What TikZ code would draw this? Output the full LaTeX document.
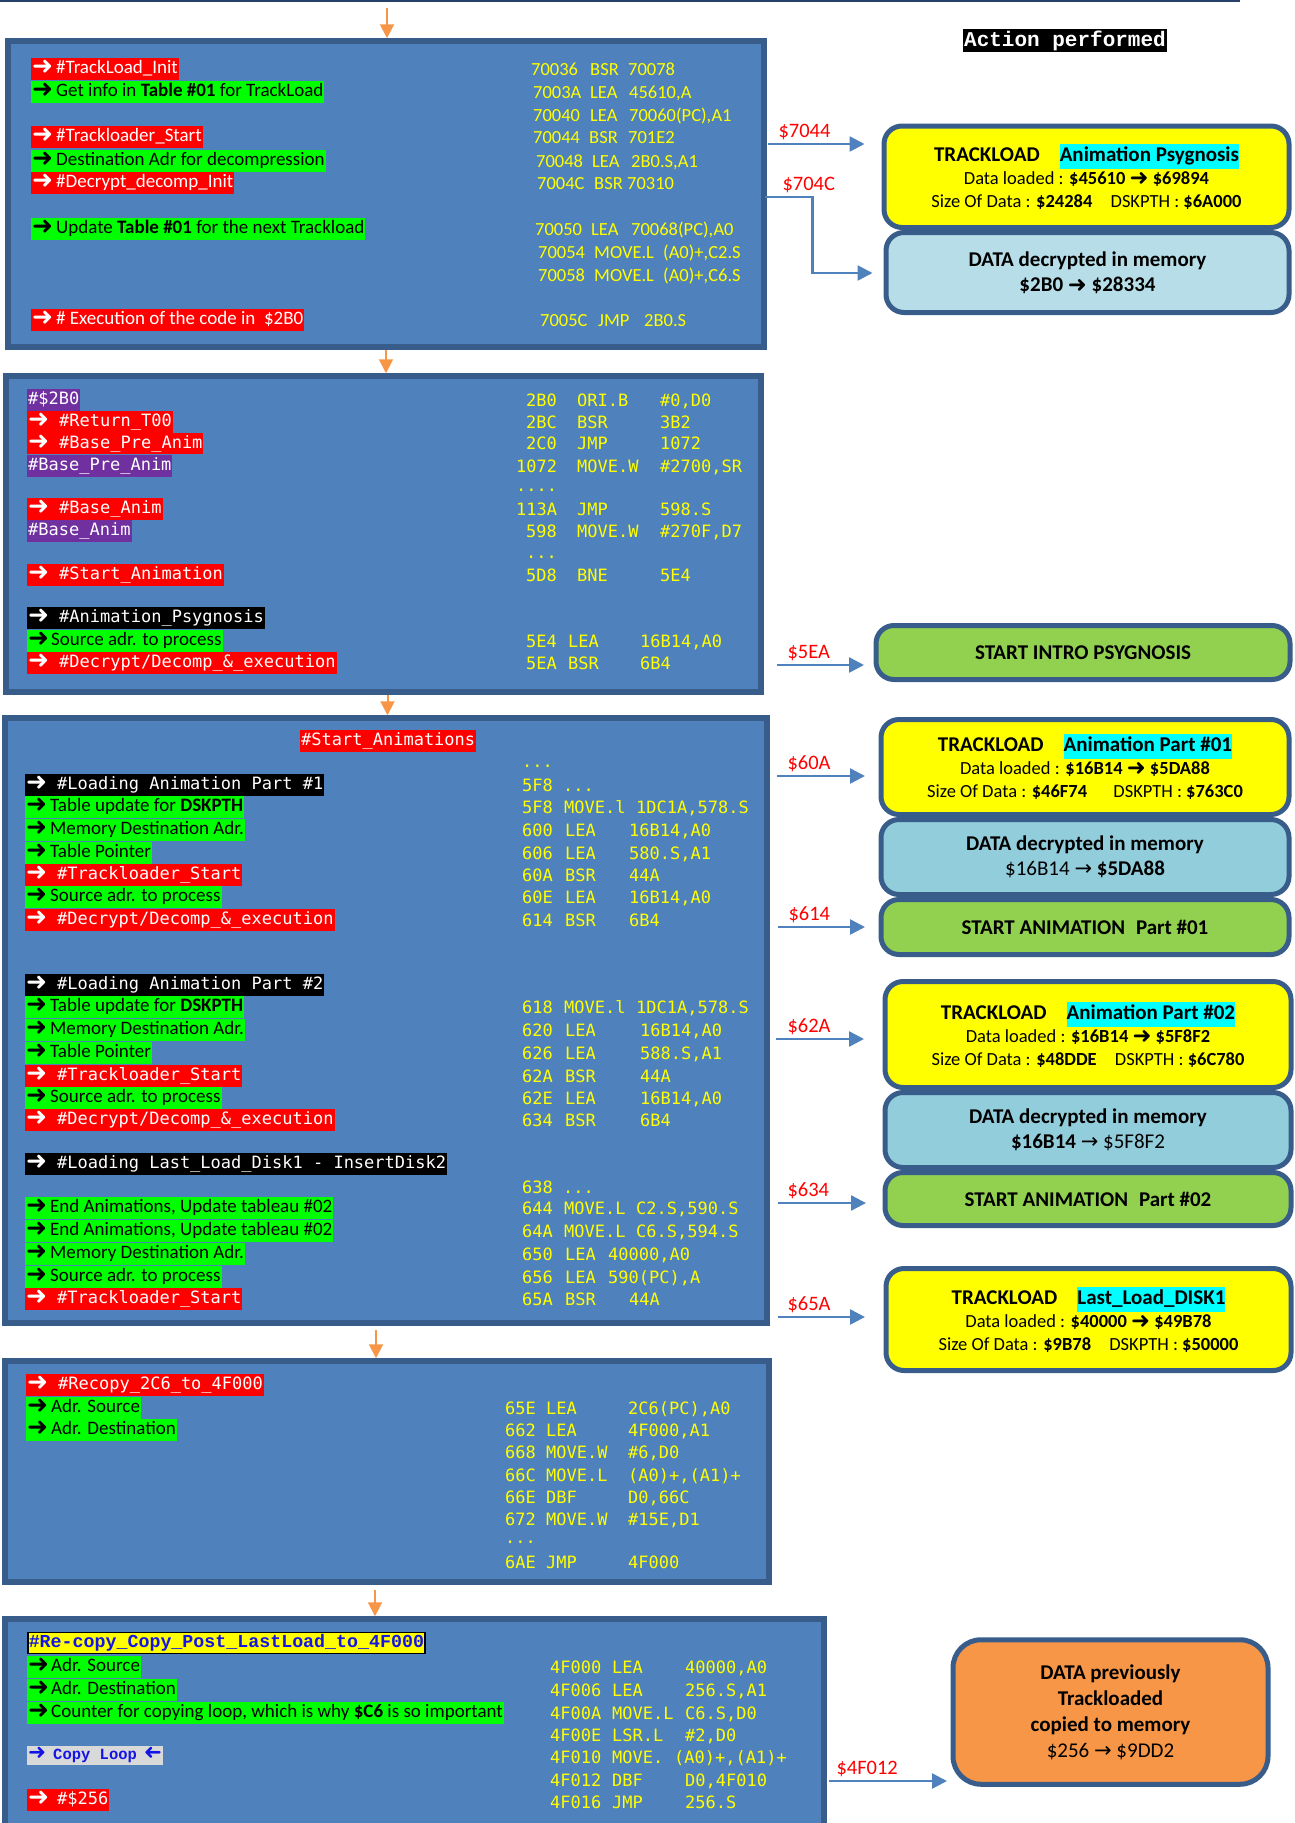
\documentclass[tikz,border=0pt]{standalone}
\usepackage{fontspec}
\setmainfont{Carlito}
\newfontfamily\monofont{DejaVu Sans Mono}
\newfontfamily\courfont{Liberation Mono}
\newfontfamily\symfont{DejaVu Sans}
\usepackage{graphicx}
\usetikzlibrary{arrows.meta}
\definecolor{boxFill}{RGB}{79, 129, 189}
\definecolor{boxLine}{RGB}{56, 93, 138}
\definecolor{topLine}{RGB}{38, 64, 105}
\definecolor{codeYellow}{RGB}{255, 255, 0}
\definecolor{codeBlue}{RGB}{20, 20, 230}
\definecolor{hlRed}{RGB}{255, 0, 0}
\definecolor{hlGreen}{RGB}{0, 255, 0}
\definecolor{hlPurple}{RGB}{112, 48, 160}
\definecolor{hlCyan}{RGB}{0, 255, 255}
\definecolor{hlGray}{RGB}{217, 217, 217}
\definecolor{hlYellow}{RGB}{255, 255, 0}
\definecolor{addrRed}{RGB}{255, 0, 0}
\definecolor{linkBlue}{RGB}{79, 129, 189}
\definecolor{flowOrange}{RGB}{247, 150, 70}
\definecolor{loadYellow}{RGB}{255, 255, 0}
\definecolor{memoLight}{RGB}{183, 222, 232}
\definecolor{memoBlue}{RGB}{146, 205, 220}
\definecolor{runGreen}{RGB}{146, 208, 80}
\definecolor{copyOrange}{RGB}{247, 150, 70}
\newcommand\arw{\makebox[19pt][l]{\smash{\raisebox{-1pt}{\resizebox{21pt}{!}{\symfont ➜}}}}}
\newcommand\barw{\smash{\raisebox{-1pt}{\resizebox{19pt}{!}{\symfont ➜}}}}
\newcommand\tarw{{\symfont →}}
\newcommand\cyhl[1]{{\setlength\fboxsep{0pt}\colorbox{hlCyan}{\strut #1}}}
\newcommand\trk[1]{{\fontsize{21}{25}\selectfont\bfseries TRACKLOAD\hspace{20pt}\cyhl{#1}}}
\newcommand\cl[5]{\makebox[#1pt][l]{#3}\makebox[#2pt][l]{#4}#5}

\begin{document}
\begin{tikzpicture}[
  x=1pt, y=-1pt,
  blk/.style={rectangle, draw=boxLine, fill=boxFill, line width=5.5pt},
  lbl/.style={anchor=west, inner xsep=1pt, inner ysep=0pt,
    text height=15.25pt, text depth=6pt, font=\fontsize{19}{22}\selectfont},
  lblred/.style={lbl, fill=hlRed, text=white},
  lblgreen/.style={lbl, fill=hlGreen, text=black},
  lblblack/.style={lbl, fill=black, text=white},
  lblpurple/.style={lbl, fill=hlPurple, text=white},
  mono/.style={font=\monofont\fontsize{17}{22}\selectfont},
  asm/.style={anchor=west, inner sep=0pt, text height=14pt, text depth=2pt,
    text=codeYellow, font=\monofont\fontsize{17}{20}\selectfont},
  asmc/.style={asm, font=\fontsize{18.5}{22}\selectfont},
  recopy/.style={anchor=west, fill=hlYellow, draw=black, line width=1.5pt,
    inner xsep=1pt, inner ysep=0pt, text height=15pt, text depth=6pt,
    text=codeBlue, font=\courfont\bfseries\fontsize{18.3}{22}\selectfont},
  loopmark/.style={anchor=west, fill=hlGray, inner xsep=1pt, inner ysep=0pt,
    text height=14pt, text depth=5pt, text=codeBlue,
    font=\courfont\bfseries\fontsize{15.5}{20}\selectfont},
  header/.style={fill=black, text=white, inner xsep=1pt, inner ysep=0pt,
    text height=17pt, text depth=6pt, font=\courfont\bfseries\fontsize{21}{25}\selectfont},
  act/.style={rectangle, rounded corners=18pt, draw=boxLine, line width=5pt,
    align=center, inner sep=0pt, font=\fontsize{18.5}{23}\selectfont},
  loadbox/.style={act, fill=loadYellow},
  memobox/.style={act, fill=memoBlue, font=\fontsize{21}{25.5}\selectfont},
  runbox/.style={act, fill=runGreen, font=\bfseries\fontsize{21}{25}\selectfont},
  copybox/.style={act, fill=copyOrange, rounded corners=28pt, font=\fontsize{21}{26}\selectfont},
  addr/.style={anchor=base west, yshift=6.5pt, inner sep=0pt, text=addrRed,
    font=\fontsize{20.5}{24}\selectfont},
  link/.style={draw=linkBlue, line width=2.5pt, -{Triangle[length=15pt, width=15pt]}},
  flow/.style={draw=flowOrange, line width=2pt, -{Triangle[length=14pt, width=14pt]}}
]
  \useasboundingbox (0,0) rectangle (1294,1823);
  \clip (0,0) rectangle (1294,1823);

  \draw[topLine, line width=3pt] (0,0) -- (1240,0);

  % --- code blocks ---
  \node[blk, minimum width=756pt, minimum height=306pt] (blk1) at (386,194) {};
  \node[blk, minimum width=755pt, minimum height=316pt] (blk2) at (383.5,534) {};
  \node[blk, minimum width=762pt, minimum height=605pt] (blk3) at (386,1020.5) {};
  \node[blk, minimum width=764pt, minimum height=221pt] (blk4) at (387,1471.5) {};
  \node[blk, minimum width=819pt, minimum height=244pt] (blk5) at (414.5,1741) {};

  % block 1
  \node[lblred]   (t11) at (31, 69) {\arw\hspace{5pt}\#TrackLoad\_Init};
  \node[lblgreen] (t12) at (31, 92) {\arw\hspace{5pt}Get info in \textbf{Table \#01} for TrackLoad};
  \node[lblred]   (t13) at (31,137) {\arw\hspace{5pt}\#Trackloader\_Start};
  \node[lblgreen] (t14) at (31,161) {\arw\hspace{5pt}Destination Adr for decompression\hspace{6pt}};
  \node[lblred]   (t15) at (31,183) {\arw\hspace{5pt}\#Decrypt\_decomp\_Init};
  \node[lblgreen] (t16) at (31,229) {\arw\hspace{5pt}Update \textbf{Table \#01} for the next Trackload};
  \node[lblred]   (t17) at (31,320) {\arw\hspace{5pt}\# Execution of the code in \ \$2B0};

  \node[asmc] (c11)  at (531, 69) {\cl{59}{38}{70036}{BSR}{70078}};
  \node[asmc] (c12)  at (533, 92) {\cl{57}{39}{7003A}{LEA}{45610,A}};
  \node[asmc] (c13)  at (533,115) {\cl{57}{39}{70040}{LEA}{70060(PC),A1}};
  \node[asmc] (c14)  at (533,137) {\cl{56}{39}{70044}{BSR}{701E2}};
  \node[asmc] (c15)  at (536,161) {\cl{56}{39}{70048}{LEA}{2B0.S,A1}};
  \node[asmc] (c16)  at (537,183) {\cl{57}{33}{7004C}{BSR}{70310}};
  \node[asmc] (c17)  at (535,229) {\cl{56}{40}{70050}{LEA}{70068(PC),A0}};
  \node[asmc] (c18)  at (538,252) {\cl{56}{69}{70054}{MOVE.L}{(A0)+,C2.S}};
  \node[asmc] (c19)  at (538,275) {\cl{56}{69}{70058}{MOVE.L}{(A0)+,C6.S}};
  \node[asmc] (c110) at (540,320) {\cl{58}{46}{7005C}{JMP}{2B0.S}};

  % block 2
  \node[lblpurple, mono] (t21)  at (27,400) {\#\$2B0};
  \node[lblred, mono]    (t22)  at (27,422) {\arw\hspace{12pt}\#Return\_T00};
  \node[lblred, mono]    (t23)  at (27,443.5) {\arw\hspace{12pt}\#Base\_Pre\_Anim};
  \node[lblpurple, mono] (t24)  at (27,466) {\#Base\_Pre\_Anim};
  \node[lblred, mono]    (t25)  at (27,509) {\arw\hspace{12pt}\#Base\_Anim};
  \node[lblpurple, mono] (t26)  at (27,531) {\#Base\_Anim};
  \node[lblred, mono]    (t27)  at (27,575) {\arw\hspace{12pt}\#Start\_Animation};
  \node[lblblack, mono]  (t28)  at (27,618) {\arw\hspace{12pt}\#Animation\_Psygnosis};
  \node[lblgreen]        (t29)  at (27,641) {\arw\hspace{4pt}Source adr. to process};
  \node[lblred, mono]    (t210) at (27,663) {\arw\hspace{12pt}\#Decrypt/Decomp\_\&\_execution};

  \node[asm] (c21)  at (526,400) {\cl{51}{83}{2B0}{ORI.B}{\#0,D0}};
  \node[asm] (c22)  at (526,422) {\cl{51}{83}{2BC}{BSR}{3B2}};
  \node[asm] (c23)  at (526,443) {\cl{51}{83}{2C0}{JMP}{1072}};
  \node[asm] (c24)  at (516,466) {\cl{61}{83}{1072}{MOVE.W}{\#2700,SR}};
  \node[asm] (c25)  at (516,485) {....};
  \node[asm] (c26)  at (516,509) {\cl{61}{83}{113A}{JMP}{598.S}};
  \node[asm] (c27)  at (526,531) {\cl{51}{83}{598}{MOVE.W}{\#270F,D7}};
  \node[asm] (c28)  at (526,552) {...};
  \node[asm] (c29)  at (526,575) {\cl{51}{83}{5D8}{BNE}{5E4}};
  \node[asm] (c210) at (526,641) {\cl{42}{72}{5E4}{LEA}{16B14,A0}};
  \node[asm] (c211) at (526,663) {\cl{42}{72}{5EA}{BSR}{6B4}};

  % block 3
  \node[lblred, mono]   (t31)  at (300, 741) {\#Start\_Animations};
  \node[lblblack, mono] (t32)  at (25, 785) {\arw\hspace{12pt}\#Loading Animation Part \#1};
  \node[lblgreen]       (t33)  at (25, 807) {\arw\hspace{5pt}Table update for \textbf{DSKPTH}};
  \node[lblgreen]       (t34)  at (25, 830) {\arw\hspace{5pt}Memory Destination Adr.};
  \node[lblgreen]       (t35)  at (25, 853) {\arw\hspace{5pt}Table Pointer};
  \node[lblred, mono]   (t36)  at (25, 875) {\arw\hspace{12pt}\#Trackloader\_Start};
  \node[lblgreen]       (t37)  at (25, 897) {\arw\hspace{5pt}Source adr. to process};
  \node[lblred, mono]   (t38)  at (25, 920) {\arw\hspace{12pt}\#Decrypt/Decomp\_\&\_execution};
  \node[lblblack, mono] (t39)  at (25, 985) {\arw\hspace{12pt}\#Loading Animation Part \#2};
  \node[lblgreen]       (t310) at (25,1007) {\arw\hspace{5pt}Table update for \textbf{DSKPTH}};
  \node[lblgreen]       (t311) at (25,1030) {\arw\hspace{5pt}Memory Destination Adr.};
  \node[lblgreen]       (t312) at (25,1053) {\arw\hspace{5pt}Table Pointer};
  \node[lblred, mono]   (t313) at (25,1076) {\arw\hspace{12pt}\#Trackloader\_Start};
  \node[lblgreen]       (t314) at (25,1098) {\arw\hspace{5pt}Source adr. to process};
  \node[lblred, mono]   (t315) at (25,1120) {\arw\hspace{12pt}\#Decrypt/Decomp\_\&\_execution};
  \node[lblblack, mono] (t316) at (25,1164) {\arw\hspace{12pt}\#Loading Last\_Load\_Disk1 - InsertDisk2};
  \node[lblgreen]       (t317) at (25,1208) {\arw\hspace{5pt}End Animations, Update tableau \#02};
  \node[lblgreen]       (t318) at (25,1231) {\arw\hspace{5pt}End Animations, Update tableau \#02};
  \node[lblgreen]       (t319) at (25,1254) {\arw\hspace{5pt}Memory Destination Adr.};
  \node[lblgreen]       (t320) at (25,1277) {\arw\hspace{5pt}Source adr. to process};
  \node[lblred, mono]   (t321) at (25,1299) {\arw\hspace{12pt}\#Trackloader\_Start};

  \node[asm] (c31)  at (522, 761) {...};
  \node[asm] (c32)  at (522, 785) {5F8 ...};
  \node[asm] (c33)  at (522, 807) {\cl{42}{72}{5F8}{MOVE.l}{1DC1A,578.S}};
  \node[asm] (c34)  at (522, 830) {\cl{43}{64}{600}{LEA}{16B14,A0}};
  \node[asm] (c35)  at (522, 853) {\cl{43}{64}{606}{LEA}{580.S,A1}};
  \node[asm] (c36)  at (522, 875) {\cl{43}{64}{60A}{BSR}{44A}};
  \node[asm] (c37)  at (522, 897) {\cl{43}{64}{60E}{LEA}{16B14,A0}};
  \node[asm] (c38)  at (522, 920) {\cl{43}{64}{614}{BSR}{6B4}};
  \node[asm] (c39)  at (522,1007) {\cl{42}{72}{618}{MOVE.l}{1DC1A,578.S}};
  \node[asm] (c310) at (522,1030) {\cl{43}{75}{620}{LEA}{16B14,A0}};
  \node[asm] (c311) at (522,1053) {\cl{43}{75}{626}{LEA}{588.S,A1}};
  \node[asm] (c312) at (522,1076) {\cl{43}{75}{62A}{BSR}{44A}};
  \node[asm] (c313) at (522,1098) {\cl{43}{75}{62E}{LEA}{16B14,A0}};
  \node[asm] (c314) at (522,1120) {\cl{43}{75}{634}{BSR}{6B4}};
  \node[asm] (c315) at (522,1187) {638 ...};
  \node[asm] (c316) at (522,1208) {\cl{42}{72}{644}{MOVE.L}{C2.S,590.S}};
  \node[asm] (c317) at (522,1231) {\cl{42}{72}{64A}{MOVE.L}{C6.S,594.S}};
  \node[asm] (c318) at (522,1254) {\cl{43}{43}{650}{LEA}{40000,A0}};
  \node[asm] (c319) at (522,1277) {\cl{43}{43}{656}{LEA}{590(PC),A}};
  \node[asm] (c320) at (522,1299) {\cl{43}{64}{65A}{BSR}{44A}};

  % block 4
  \node[lblred, mono] (t41) at (26,1385) {\arw\hspace{12pt}\#Recopy\_2C6\_to\_4F000};
  \node[lblgreen]     (t42) at (26,1408) {\arw\hspace{5pt}Adr. Source};
  \node[lblgreen]     (t43) at (26,1430) {\arw\hspace{5pt}Adr. Destination};

  \node[asm] (c41) at (505,1408) {\cl{41}{82}{65E}{LEA}{2C6(PC),A0}};
  \node[asm] (c42) at (505,1430) {\cl{41}{82}{662}{LEA}{4F000,A1}};
  \node[asm] (c43) at (505,1452) {\cl{41}{82}{668}{MOVE.W}{\#6,D0}};
  \node[asm] (c44) at (505,1475) {\cl{41}{82}{66C}{MOVE.L}{(A0)+,(A1)+}};
  \node[asm] (c45) at (505,1497) {\cl{41}{82}{66E}{DBF}{D0,66C}};
  \node[asm] (c46) at (505,1519) {\cl{41}{82}{672}{MOVE.W}{\#15E,D1}};
  \node[asm] (c47) at (505,1537) {...};
  \node[asm] (c48) at (505,1562) {\cl{41}{82}{6AE}{JMP}{4F000}};

  % block 5
  \node[recopy]       (t51) at (27,1643) {\#Re-copy\_Copy\_Post\_LastLoad\_to\_4F000};
  \node[lblgreen]     (t52) at (27,1667) {\arw\hspace{4pt}Adr. Source};
  \node[lblgreen]     (t53) at (27,1690) {\arw\hspace{4pt}Adr. Destination};
  \node[lblgreen]     (t54) at (27,1713) {\arw\hspace{4pt}Counter for copying loop, which is why \textbf{\$C6} is so important};
  \node[loopmark]     (t55) at (27,1755) {\smash{\resizebox{18pt}{!}{\symfont ➜}}\hspace{7pt}Copy Loop\hspace{7pt}\reflectbox{\smash{\resizebox{18pt}{!}{\symfont ➜}}}};
  \node[lblred, mono] (t56) at (27,1800) {\arw\hspace{10pt}\#\$256};

  \node[asm] (c51) at (550,1667) {\cl{62}{73}{4F000}{LEA}{40000,A0}};
  \node[asm] (c52) at (550,1690) {\cl{62}{73}{4F006}{LEA}{256.S,A1}};
  \node[asm] (c53) at (550,1713) {\cl{62}{73}{4F00A}{MOVE.L}{C6.S,D0}};
  \node[asm] (c54) at (550,1735) {\cl{62}{73}{4F00E}{LSR.L}{\#2,D0}};
  \node[asm] (c55) at (550,1757) {\cl{62}{62}{4F010}{MOVE.}{(A0)+,(A1)+}};
  \node[asm] (c56) at (550,1780) {\cl{62}{73}{4F012}{DBF}{D0,4F010}};
  \node[asm] (c57) at (550,1802) {\cl{62}{73}{4F016}{JMP}{256.S}};

  % --- actions performed ---
  \node[header] (hdr) at (1065,40.5) {Action performed};

  \node[loadbox, minimum width=405pt, minimum height=101.5pt] (actA) at (1086.5,176.75)
    {\trk{Animation Psygnosis}\\
     Data loaded : \textbf{\$45610 \barw{} \$69894}\\
     Size Of Data : \textbf{\$24284}\hspace{14pt} DSKPTH : \textbf{\$6A000}};
  \node[memobox, fill=memoLight, minimum width=403pt, minimum height=80pt] (actB) at (1087.5,272.5)
    {\textbf{DATA decrypted in memory}\\ \textbf{\$2B0 \barw{} \$28334}};

  \node[runbox, minimum width=414pt, minimum height=54pt] (actC) at (1083,652.5) {START INTRO PSYGNOSIS};

  \node[loadbox, minimum width=408pt, minimum height=95pt] (actD) at (1085,767)
    {\trk{Animation Part \#01}\\
     Data loaded : \textbf{\$16B14 \barw{} \$5DA88}\\
     Size Of Data : \textbf{\$46F74}\hspace{22pt} DSKPTH : \textbf{\$763C0}};
  \node[memobox, minimum width=408pt, minimum height=75pt] (actE) at (1085,857)
    {\textbf{DATA decrypted in memory}\\ \$16B14 \tarw{} \textbf{\$5DA88}};
  \node[runbox, minimum width=408pt, minimum height=55pt] (actF) at (1085,927)
    {START ANIMATION\hspace{6pt} Part \#01};

  \node[loadbox, minimum width=406pt, minimum height=106pt] (actG) at (1088,1034.5)
    {\trk{Animation Part \#02}\\
     Data loaded : \textbf{\$16B14 \barw{} \$5F8F2}\\
     Size Of Data : \textbf{\$48DDE}\hspace{14pt} DSKPTH : \textbf{\$6C780}};
  \node[memobox, minimum width=406pt, minimum height=75pt] (actH) at (1088,1130)
    {\textbf{DATA decrypted in memory}\\ \textbf{\$16B14} \tarw{} \$5F8F2};
  \node[runbox, minimum width=406pt, minimum height=53pt] (actI) at (1088,1199)
    {START ANIMATION\hspace{6pt} Part \#02};

  \node[loadbox, minimum width=405pt, minimum height=102pt] (actJ) at (1088.5,1319.5)
    {\trk{Last\_Load\_DISK1}\\
     Data loaded : \textbf{\$40000 \barw{} \$49B78}\\
     Size Of Data : \textbf{\$9B78}\hspace{14pt} DSKPTH : \textbf{\$50000}};

  \node[copybox, minimum width=315pt, minimum height=144.5pt] (actK) at (1110.5,1712)
    {\textbf{DATA previously}\\ \textbf{Trackloaded}\\ \textbf{copied to memory}\\ \$256 \tarw{} \$9DD2};

  % --- flow between blocks ---
  \coordinate (entry) at (387,8);
  \draw[flow] (entry) -- (entry |- blk1.north);
  \draw[flow] (blk1.south) -- (blk1.south |- blk2.north);
  \draw[flow] ([xshift=4pt]blk2.south) -- ([xshift=4pt]blk2.south |- blk3.north);
  \draw[flow, shorten <=4pt] ([xshift=-10pt]blk3.south) -- ([xshift=-10pt]blk3.south |- blk4.north);
  \draw[flow, shorten <=5pt] ([xshift=-12pt]blk4.south) -- ([xshift=-12pt]blk4.south |- blk5.north);

  % --- calls to the actions ---
  \draw[link] ([xshift=1.5pt]blk1.east |- 0,144) -- ([xshift=-17pt]actA.west |- 0,144)
    node[addr, pos=0, xshift=9pt] {\$7044};
  \draw[link] ([xshift=-1.5pt]blk1.east |- 0,197) -- ++(47,0)
    node[addr, pos=0, xshift=16pt] {\$704C} |- ([xshift=-11pt]actB.west |- 0,273);
  \draw[link] ([xshift=13.5pt]blk2.east |- 0,665) -- ([xshift=-9.5pt]actC.west |- 0,665)
    node[addr, pos=0, xshift=9pt] {\$5EA};
  \draw[link] ([xshift=7.5pt]blk3.east |- 0,776) -- ([xshift=-13.5pt]actD.west |- 0,776)
    node[addr, pos=0, xshift=9pt] {\$60A};
  \draw[link] ([xshift=8.5pt]blk3.east |- 0,927) -- ([xshift=-13.5pt]actF.west |- 0,927)
    node[addr, pos=0, xshift=9pt] {\$614};
  \draw[link] ([xshift=6.5pt]blk3.east |- 0,1039) -- ([xshift=-18.5pt]actG.west |- 0,1039)
    node[addr, pos=0, xshift=10pt] {\$62A};
  \draw[link] ([xshift=8.5pt]blk3.east |- 0,1203) -- ([xshift=-16.5pt]actI.west |- 0,1203)
    node[addr, pos=0, xshift=8pt] {\$634};
  \draw[link] ([xshift=8.5pt]blk3.east |- 0,1317) -- ([xshift=-18.5pt]actJ.west |- 0,1317)
    node[addr, pos=0, xshift=8pt] {\$65A};
  \draw[link] ([xshift=2.5pt]blk5.east |- 0,1781) -- ([xshift=-3.5pt]actK.west |- 0,1781)
    node[addr, pos=0, xshift=6pt] {\$4F012};

\end{tikzpicture}
\end{document}
